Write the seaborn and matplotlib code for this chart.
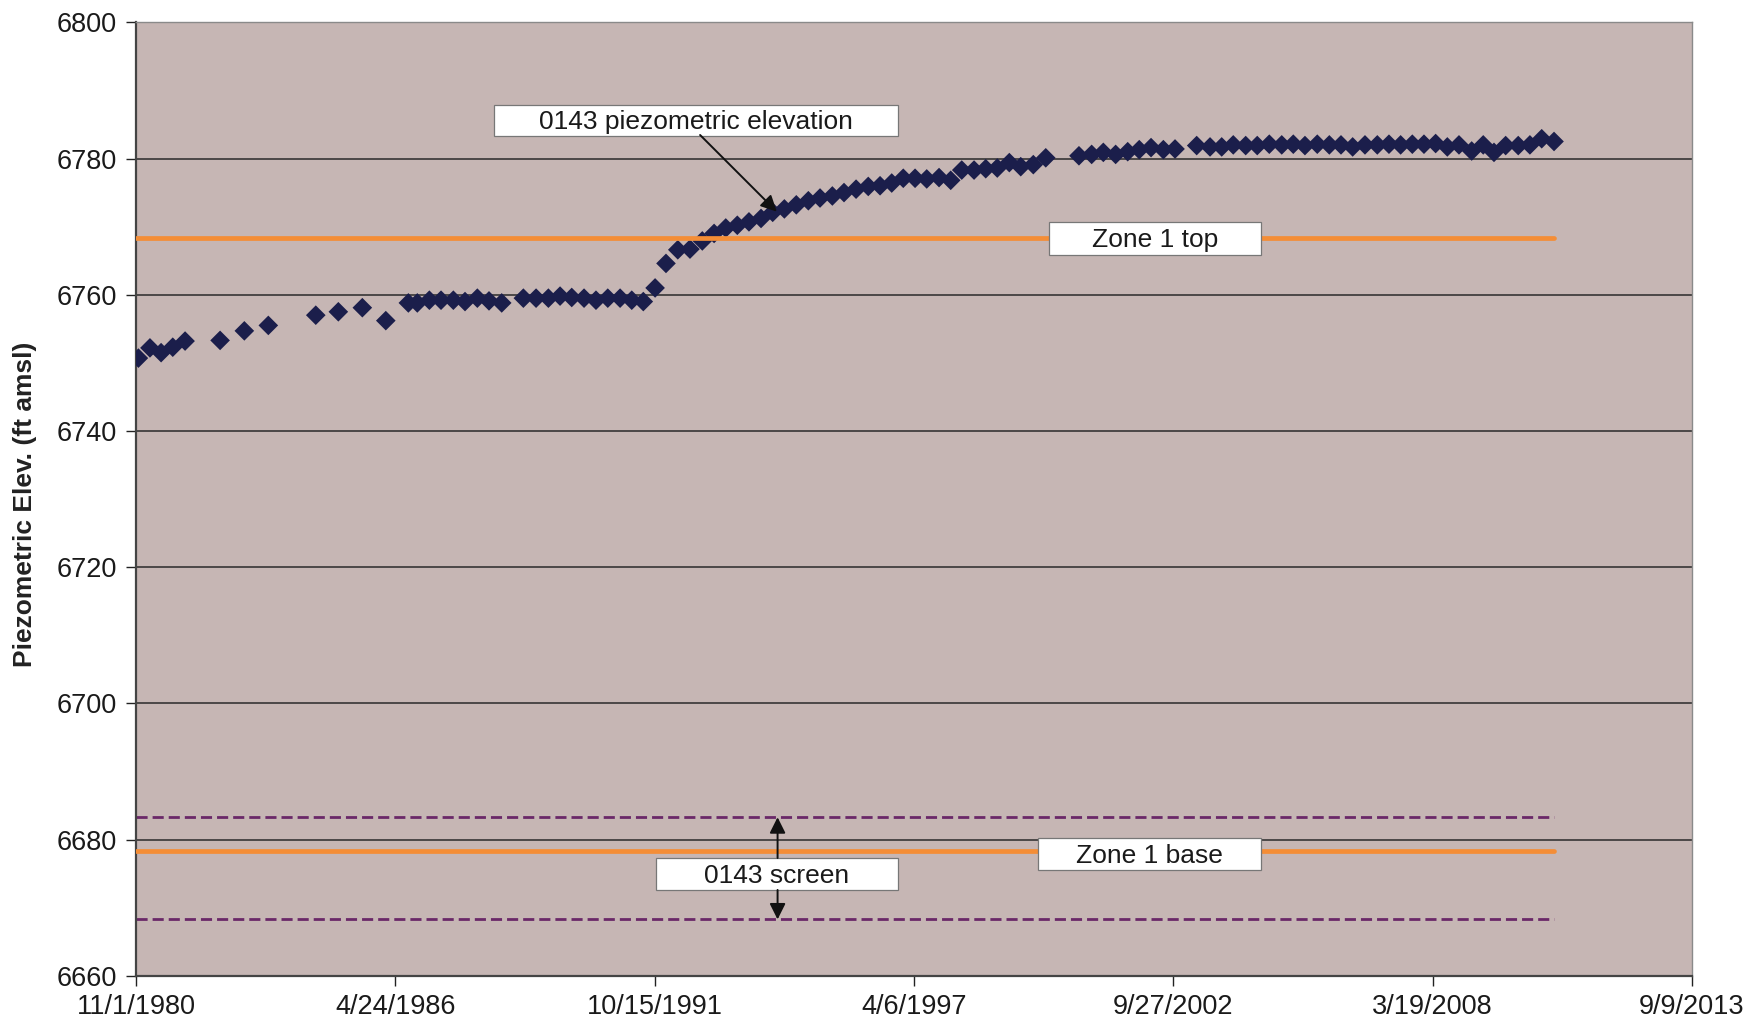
import matplotlib
matplotlib.use("Agg")
import matplotlib.pyplot as plt
import seaborn as sns
import pandas as pd
from matplotlib.patches import Rectangle

# ---------------- data ----------------
dates = [
    "1980-11-19", "1981-02-16", "1981-05-13", "1981-08-11", "1981-11-14",
    "1982-08-11", "1983-02-14", "1983-08-18", "1984-08-18", "1985-02-08",
    "1985-08-12", "1986-02-09", "1986-08-02", "1986-10-10", "1987-01-11",
    "1987-04-11", "1987-07-15", "1987-10-13", "1988-01-16", "1988-04-15",
    "1988-07-22", "1989-01-05", "1989-04-13", "1989-07-17", "1989-10-15",
    "1990-01-13", "1990-04-18", "1990-07-19", "1990-10-18", "1991-01-21",
    "1991-04-21", "1991-07-19", "1991-10-18", "1992-01-10", "1992-04-10",
    "1992-07-13", "1992-10-16", "1993-01-15", "1993-04-15", "1993-07-13",
    "1993-10-11", "1994-01-12", "1994-04-12", "1994-07-11", "1994-10-11",
    "1995-01-12", "1995-04-12", "1995-07-16", "1995-10-14", "1996-01-15",
    "1996-04-18", "1996-07-18", "1996-10-16", "1997-01-13", "1997-04-14",
    "1997-07-13", "1997-10-16", "1998-01-14", "1998-04-09", "1998-07-13",
    "1998-10-11", "1999-01-08", "1999-04-11", "1999-07-08", "1999-10-13",
    "2000-01-17", "2000-09-29", "2001-01-05", "2001-04-05", "2001-07-09",
    "2001-10-10", "2002-01-07", "2002-04-08", "2002-07-12", "2002-10-10",
    "2003-03-26", "2003-07-07", "2003-10-05", "2004-01-02", "2004-04-07",
    "2004-07-05", "2004-10-06", "2005-01-10", "2005-04-09", "2005-07-08",
    "2005-10-11", "2006-01-12", "2006-04-12", "2006-07-11", "2006-10-14",
    "2007-01-17", "2007-04-17", "2007-07-16", "2007-10-14", "2008-01-12",
    "2008-04-11", "2008-07-10", "2008-10-08", "2009-01-14", "2009-04-13",
    "2009-07-05", "2009-10-03", "2010-01-08", "2010-04-08", "2010-07-08",
    "2010-10-11",
]
elevation = [
    6750.7, 6752.2, 6751.5, 6752.3, 6753.2,
    6753.3, 6754.7, 6755.5, 6757.0, 6757.5,
    6758.1, 6756.2, 6758.8, 6758.8, 6759.2,
    6759.2, 6759.2, 6759.0, 6759.5, 6759.1,
    6758.8, 6759.5, 6759.5, 6759.5, 6759.8,
    6759.6, 6759.5, 6759.2, 6759.5, 6759.5,
    6759.2, 6759.0, 6761.0, 6764.6, 6766.6,
    6766.7, 6767.9, 6769.0, 6769.8, 6770.2,
    6770.7, 6771.2, 6772.1, 6772.6, 6773.2,
    6773.8, 6774.2, 6774.5, 6775.0, 6775.5,
    6775.9, 6776.0, 6776.4, 6777.1, 6777.1,
    6777.0, 6777.2, 6776.8, 6778.3, 6778.3,
    6778.5, 6778.6, 6779.4, 6778.8, 6779.1,
    6780.1, 6780.4, 6780.6, 6780.9, 6780.6,
    6781.0, 6781.3, 6781.6, 6781.3, 6781.4,
    6781.9, 6781.7, 6781.7, 6782.0, 6781.9,
    6781.9, 6782.1, 6782.0, 6782.1, 6781.9,
    6782.1, 6782.0, 6782.0, 6781.7, 6782.0,
    6782.0, 6782.1, 6782.0, 6782.1, 6782.1,
    6782.2, 6781.7, 6782.0, 6781.1, 6782.0,
    6780.9, 6781.9, 6781.9, 6782.0, 6782.9,
    6782.5,
]

ref_line_start = "1980-11-01"
ref_line_end = "2010-10-11"
zone1_top = 6768.3
zone1_base = 6678.3
screen_top = 6683.3
screen_bottom = 6668.3

x_tick_dates = ["1980-11-01", "1986-04-24", "1991-10-15", "1997-04-06",
                "2002-09-27", "2008-03-19", "2013-09-09"]
x_tick_labels = ["11/1/1980", "4/24/1986", "10/15/1991", "4/6/1997",
                 "9/27/2002", "3/19/2008", "9/9/2013"]
y_ticks = [6660, 6680, 6700, 6720, 6740, 6760, 6780, 6800]

label_piezo = "0143 piezometric elevation"
label_top = "Zone 1 top"
label_base = "Zone 1 base"
label_screen = "0143 screen"
y_label = "Piezometric Elev. (ft amsl)"

# ---------------- style ----------------
sns.set_theme(style="white")
plt.rcParams["font.family"] = ["Liberation Sans", "DejaVu Sans"]

BG = "#C6B6B4"
MARKER = "#1b1e4b"
ORANGE = "#F48D36"
PURPLE = "#6A2868"
FS = 19.5

fig = plt.figure(figsize=(17.49, 10.21), dpi=100)
ax = fig.add_axes([0.0778, 0.0441, 0.8896, 0.9341])
ax.set_facecolor(BG)

df = pd.DataFrame({"date": pd.to_datetime(dates), "elev": elevation})
line_x = pd.to_datetime([ref_line_start, ref_line_end])

# screen dashed lines
for val in (screen_top, screen_bottom):
    sns.lineplot(x=line_x, y=[val, val], ax=ax, color=PURPLE, lw=2.0,
                 linestyle=(0, (4.0, 1.8)), zorder=2)

sns.scatterplot(data=df, x="date", y="elev", marker="D", s=100,
                color=MARKER, edgecolor="none", linewidth=0, ax=ax, zorder=3)

# zone lines
for val in (zone1_top, zone1_base):
    sns.lineplot(x=line_x, y=[val, val], ax=ax, color=ORANGE, lw=3.4,
                 zorder=4)

# axes
ax.set_xlim(pd.Timestamp(x_tick_dates[0]), pd.Timestamp(x_tick_dates[-1]))
ax.set_ylim(y_ticks[0], y_ticks[-1])
ax.set_xticks(pd.to_datetime(x_tick_dates))
ax.set_xticklabels(x_tick_labels)
ax.set_yticks(y_ticks)
ax.set_yticklabels([str(v) for v in y_ticks])
ax.set_xlabel("")
ax.tick_params(axis="both", labelsize=FS, colors="#222222",
               direction="out", length=7, width=1.0)
ax.tick_params(axis="y", pad=7, left=True)
ax.tick_params(axis="x", pad=6, bottom=True)
for lab in ax.get_xticklabels() + ax.get_yticklabels():
    lab.set_color("#1a1a1a")

ax.yaxis.grid(True, color="#2a2a2a", lw=1.1)
ax.xaxis.grid(False)
ax.set_axisbelow(True)
for side in ("top", "right"):
    ax.spines[side].set_color("#8a8a8a")
    ax.spines[side].set_linewidth(1.0)
for side in ("left", "bottom"):
    ax.spines[side].set_color("#444444")
    ax.spines[side].set_linewidth(1.6)

ax.set_ylabel(y_label, fontsize=19, fontweight="bold", color="#222222")
ax.yaxis.set_label_coords(-0.0711, 0.495)
ax.yaxis.label.set_va("center")

# ---------------- annotations ----------------
def label_box(x0, y0, w, h, text):
    ax.add_patch(Rectangle((x0, y0), w, h, transform=ax.transAxes,
                           facecolor="white", edgecolor="#777777", lw=0.9,
                           zorder=6, clip_on=False))
    ax.text(x0 + w / 2, y0 + h / 2 - 0.002, text, transform=ax.transAxes,
            ha="center", va="center", fontsize=19, color="#1a1a1a", zorder=7)

label_box(0.2300, 0.8808, 0.2597, 0.0325, label_piezo)
label_box(0.5868, 0.7560, 0.1362, 0.0346, label_top)
label_box(0.5797, 0.1111, 0.1433, 0.0336, label_base)
label_box(0.3342, 0.0902, 0.1555, 0.0335, label_screen)

arrow = dict(arrowstyle="-|>", color="#111111", lw=1.4, mutation_scale=24,
             shrinkA=0, shrinkB=0)
ax.annotate("", xy=(0.4118, 0.8014), xytext=(0.3625, 0.8818),
            xycoords="axes fraction", textcoords="axes fraction",
            arrowprops=arrow, zorder=8)
ax.annotate("", xy=(0.4123, screen_top), xytext=(0.4123, 0.1237),
            xycoords=("axes fraction", "data"), textcoords="axes fraction",
            arrowprops=arrow, zorder=8)
ax.annotate("", xy=(0.4123, screen_bottom), xytext=(0.4123, 0.0902),
            xycoords=("axes fraction", "data"), textcoords="axes fraction",
            arrowprops=arrow, zorder=8)

fig.savefig("out.png", dpi=100, facecolor="white")
